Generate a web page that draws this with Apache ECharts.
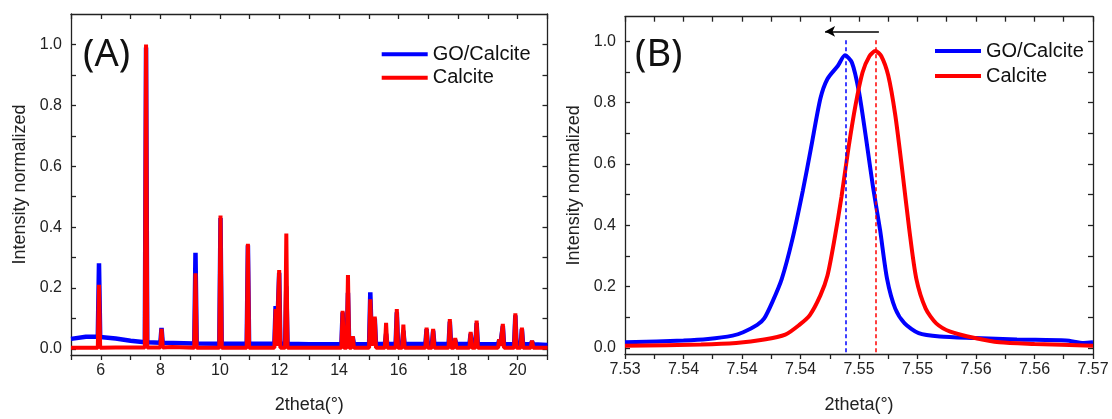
<!DOCTYPE html>
<html>
<head>
<meta charset="utf-8">
<script src="https://cdn.jsdelivr.net/npm/echarts@6/dist/echarts.min.js"></script>
<style>
html,body{margin:0;padding:0;background:#fff;}
#c{width:1112px;height:419px;}
</style>
</head>
<body>
<div id="c"></div>
<script>
// ---------- Data ----------
const seriesNames = ['GO/Calcite', 'Calcite'];

// Panel A: full XRD pattern (2theta, normalized intensity)
const aBlue = [[5.0,0.033],[5.5,0.040],[5.90,0.040],[5.94,0.281],[5.98,0.039],[6.5,0.034],[7.0,0.027],[7.48,0.022],[7.52,0.99],[7.56,0.022],[8.0,0.020],[8.04,0.069],[8.08,0.020],[9.14,0.018],[9.18,0.316],[9.22,0.018],[9.98,0.017],[10.02,0.43],[10.06,0.017],[10.90,0.017],[10.94,0.34],[10.98,0.017],[11.83,0.017],[11.87,0.141],[11.91,0.02],[11.95,0.02],[11.99,0.25],[12.03,0.017],[12.19,0.017],[12.23,0.206],[12.27,0.017],[13.0,0.015],[14.08,0.015],[14.12,0.12],[14.16,0.015],[14.26,0.015],[14.30,0.184],[14.34,0.015],[14.42,0.015],[14.46,0.04],[14.50,0.015],[15.01,0.016],[15.05,0.186],[15.10,0.02],[15.16,0.02],[15.20,0.10],[15.24,0.016],[15.54,0.016],[15.58,0.05],[15.62,0.016],[15.90,0.016],[15.94,0.12],[15.98,0.016],[16.12,0.016],[16.16,0.06],[16.20,0.016],[16.90,0.016],[16.94,0.065],[16.98,0.016],[17.12,0.016],[17.16,0.06],[17.20,0.016],[17.68,0.016],[17.72,0.09],[17.76,0.016],[17.86,0.016],[17.90,0.03],[17.94,0.016],[18.38,0.016],[18.42,0.05],[18.46,0.016],[18.58,0.016],[18.62,0.085],[18.66,0.016],[19.34,0.015],[19.38,0.03],[19.42,0.015],[19.46,0.015],[19.50,0.075],[19.54,0.015],[19.60,0.02],[19.64,0.015],[19.88,0.015],[19.92,0.11],[19.96,0.015],[20.10,0.015],[20.14,0.065],[20.18,0.015],[20.44,0.015],[20.48,0.025],[20.52,0.015],[21.0,0.013]];
const aRed = [[5.0,0.004],[5.90,0.004],[5.94,0.211],[5.98,0.004],[6.5,0.005],[7.0,0.005],[7.48,0.005],[7.52,1.0],[7.56,0.005],[8.0,0.005],[8.04,0.066],[8.08,0.005],[8.4,0.006],[9.14,0.004],[9.18,0.248],[9.22,0.004],[9.98,0.004],[10.02,0.438],[10.06,0.004],[10.90,0.004],[10.94,0.345],[10.98,0.004],[11.83,0.004],[11.87,0.131],[11.91,0.01],[11.95,0.01],[11.99,0.259],[12.03,0.004],[12.19,0.004],[12.23,0.379],[12.27,0.004],[14.08,0.004],[14.12,0.125],[14.16,0.004],[14.26,0.004],[14.30,0.243],[14.34,0.004],[14.42,0.004],[14.46,0.042],[14.50,0.004],[15.01,0.004],[15.05,0.163],[15.10,0.01],[15.16,0.01],[15.20,0.106],[15.24,0.004],[15.54,0.004],[15.58,0.086],[15.62,0.004],[15.90,0.004],[15.94,0.131],[15.98,0.004],[16.12,0.004],[16.16,0.080],[16.20,0.004],[16.90,0.004],[16.94,0.070],[16.98,0.004],[17.12,0.004],[17.16,0.066],[17.20,0.004],[17.68,0.004],[17.72,0.098],[17.76,0.004],[17.86,0.004],[17.90,0.036],[17.94,0.004],[18.38,0.004],[18.42,0.056],[18.46,0.004],[18.58,0.004],[18.62,0.093],[18.66,0.004],[19.34,0.004],[19.38,0.032],[19.42,0.01],[19.46,0.01],[19.50,0.082],[19.54,0.004],[19.88,0.004],[19.92,0.117],[19.96,0.004],[20.10,0.004],[20.14,0.070],[20.18,0.004],[20.44,0.004],[20.48,0.027],[20.52,0.004],[21.0,0.004]];

// Panel B: zoom on the main peak
const bBlue = [[7.5300,0.018],[7.5350,0.024],[7.5371,0.029],[7.5392,0.040],[7.5401,0.051],[7.5413,0.075],[7.5419,0.096],[7.5426,0.150],[7.5434,0.225],[7.5443,0.353],[7.5452,0.513],[7.5459,0.652],[7.5467,0.813],[7.5473,0.877],[7.5482,0.920],[7.5488,0.954],[7.5494,0.930],[7.5500,0.834],[7.5506,0.684],[7.5512,0.524],[7.5518,0.385],[7.5524,0.225],[7.5531,0.128],[7.5539,0.080],[7.5551,0.048],[7.5569,0.037],[7.5599,0.032],[7.5635,0.027],[7.5677,0.024],[7.5692,0.016],[7.5700,0.018]];
const bRed = [[7.5300,0.007],[7.5365,0.011],[7.5395,0.016],[7.5419,0.027],[7.5437,0.043],[7.5449,0.075],[7.5458,0.107],[7.5467,0.171],[7.5473,0.235],[7.5479,0.353],[7.5485,0.492],[7.5491,0.652],[7.5497,0.791],[7.5503,0.898],[7.5509,0.952],[7.5514,0.968],[7.5519,0.952],[7.5525,0.888],[7.5531,0.759],[7.5537,0.578],[7.5543,0.385],[7.5549,0.225],[7.5557,0.128],[7.5566,0.080],[7.5578,0.053],[7.5599,0.032],[7.5620,0.018],[7.5650,0.013],[7.5700,0.007]];
const bPeakPos = [7.5489, 7.5514];      // dashed guides: blue, red
const bGuideTop = 1.003;
const bArrow = [[7.5517, 1.032], [7.5471, 1.032]]; // from -> to

// Tick labels
const aXLabelVals = [6, 8, 10, 12, 14, 16, 18, 20];
const aXTickVals = [5,6,7,8,9,10,11,12,13,14,15,16,17,18,19,20,21];
const yLabelVals = [0, 0.2, 0.4, 0.6, 0.8, 1.0];
const aYTickVals = [0,0.1,0.2,0.3,0.4,0.5,0.6,0.7,0.8,0.9,1.0];
const bYTickVals = [0,0.1,0.2,0.3,0.4,0.5,0.6,0.7,0.8,0.9,1.0];
const bXLabelVals = [7.53,7.535,7.54,7.545,7.55,7.555,7.56,7.565,7.57];
const bXLabels = ['7.53','7.54','7.54','7.54','7.55','7.55','7.56','7.56','7.57'];
const bXTickVals = [7.53,7.5325,7.535,7.5375,7.54,7.5425,7.545,7.5475,7.55,7.5525,7.555,7.5575,7.56,7.5625,7.565,7.5675,7.57];

// ---------- Styles ----------
const BLUE = '#0000ff', RED = '#ff0000', INK = '#222';
const FONT = '"Liberation Sans", Arial, sans-serif';
const lineSt = {color: INK, width: 1.3};

function xAx(grid, min, max, pos, labelVals, tickVals, fmt, name, nameGap) {
  const bottom = pos === 'bottom';
  return {
    type: 'value', gridIndex: grid, min: min, max: max, position: pos,
    axisLine: {show: true, onZero: false, lineStyle: lineSt},
    axisTick: {show: true, inside: !bottom, length: 5, customValues: tickVals, lineStyle: lineSt},
    axisLabel: {show: bottom, customValues: labelVals, formatter: fmt, fontSize: 16, color: INK, fontFamily: FONT, margin: 8},
    splitLine: {show: false},
    name: bottom ? name : '', nameLocation: 'middle', nameGap: nameGap,
    nameTextStyle: {fontSize: 18, color: INK, fontFamily: FONT}
  };
}
function yAx(grid, min, max, pos, tickVals, nameGap) {
  const left = pos === 'left';
  return {
    type: 'value', gridIndex: grid, min: min, max: max, position: pos,
    axisLine: {show: true, onZero: false, lineStyle: lineSt},
    axisTick: {show: true, inside: true, length: 5, customValues: tickVals, lineStyle: lineSt},
    axisLabel: {show: left, customValues: yLabelVals, formatter: v => v.toFixed(1), fontSize: 16, color: INK, fontFamily: FONT, margin: 9},
    splitLine: {show: false},
    name: left ? 'Intensity normalized' : '', nameLocation: 'middle', nameGap: nameGap, nameRotate: 90,
    nameTextStyle: {fontSize: 18, color: INK, fontFamily: FONT}
  };
}

const bFmt = (v) => {
  const i = Math.round((v - bXLabelVals[0]) / 0.005);
  return bXLabels[i] !== undefined ? bXLabels[i] : '';
};

const option = {
  animation: false,
  backgroundColor: '#fff',
  grid: [
    {left: 71, top: 14, width: 476.5, height: 347},
    {left: 625, top: 16.7, width: 468, height: 342.6}
  ],
  xAxis: [
    xAx(0, 5, 21, 'bottom', aXLabelVals, aXTickVals, v => String(v), '2theta(°)', 41),
    xAx(0, 5, 21, 'top', aXLabelVals, aXTickVals, v => String(v), '', 0),
    xAx(1, 7.53, 7.57, 'bottom', bXLabelVals, bXTickVals, bFmt, '2theta(°)', 42),
    xAx(1, 7.53, 7.57, 'top', bXLabelVals, bXTickVals, bFmt, '', 0)
  ],
  yAxis: [
    yAx(0, -0.02, 1.1, 'left', aYTickVals, 42),
    yAx(0, -0.02, 1.1, 'right', aYTickVals, 0),
    yAx(1, -0.02, 1.08, 'left', bYTickVals, 42),
    yAx(1, -0.02, 1.08, 'right', bYTickVals, 0)
  ],
  legend: [
    {left: 381.7, top: 43.3, orient: 'vertical', padding: 0, itemGap: 1.4, itemWidth: 46, itemHeight: 4, icon: 'rect',
     data: seriesNames, selectedMode: false,
     textStyle: {fontSize: 20, color: '#111', fontFamily: FONT, lineHeight: 22}},
    {left: 935, top: 40, orient: 'vertical', padding: 0, itemGap: 3, itemWidth: 46, itemHeight: 4, icon: 'rect',
     data: seriesNames, selectedMode: false,
     textStyle: {fontSize: 20, color: '#111', fontFamily: FONT, lineHeight: 22}}
  ],
  graphic: [
    {type: 'text', left: 83, top: 36, style: {text: '(A)', font: '38px "Noto Sans", "Open Sans", sans-serif', fill: '#111'}},
    {type: 'text', left: 635, top: 36, style: {text: '(B)', font: '38px "Noto Sans", "Open Sans", sans-serif', fill: '#111'}}
  ],
  series: [
    {name: seriesNames[0], type: 'line', xAxisIndex: 0, yAxisIndex: 0, data: aBlue, showSymbol: false,
     lineStyle: {color: BLUE, width: 4.5}, itemStyle: {color: BLUE}},
    {name: seriesNames[1], type: 'line', xAxisIndex: 0, yAxisIndex: 0, data: aRed, showSymbol: false,
     lineStyle: {color: RED, width: 4}, itemStyle: {color: RED}},
    {name: seriesNames[0], type: 'line', xAxisIndex: 2, yAxisIndex: 2, data: bBlue, showSymbol: false, smooth: 0.25,
     lineStyle: {color: BLUE, width: 4}, itemStyle: {color: BLUE},
     markLine: {silent: true, symbol: ['none', 'none'], label: {show: false},
       lineStyle: {color: BLUE, type: [4, 3], width: 1.5, opacity: 1},
       data: [[{coord: [bPeakPos[0], bGuideTop]}, {coord: [bPeakPos[0], -0.02]}]]}},
    {name: seriesNames[1], type: 'line', xAxisIndex: 2, yAxisIndex: 2, data: bRed, showSymbol: false, smooth: 0.25,
     lineStyle: {color: RED, width: 4}, itemStyle: {color: RED},
     markLine: {silent: true, symbol: ['none', 'none'], label: {show: false},
       lineStyle: {color: RED, type: [4, 3], width: 1.5, opacity: 1},
       data: [[{coord: [bPeakPos[1], bGuideTop]}, {coord: [bPeakPos[1], -0.02]}]]}},
    {name: 'arrow', type: 'line', xAxisIndex: 2, yAxisIndex: 2, data: [], showSymbol: false,
     markLine: {silent: true, symbol: ['none', 'arrow'], symbolSize: [8, 10], label: {show: false},
       lineStyle: {color: '#000', type: 'solid', width: 1.5},
       data: [[{coord: bArrow[0]}, {coord: bArrow[1]}]]}}
  ]
};

const chart = echarts.init(document.getElementById('c'), null, {renderer: 'canvas'});
chart.setOption(option);
</script>
</body>
</html>
